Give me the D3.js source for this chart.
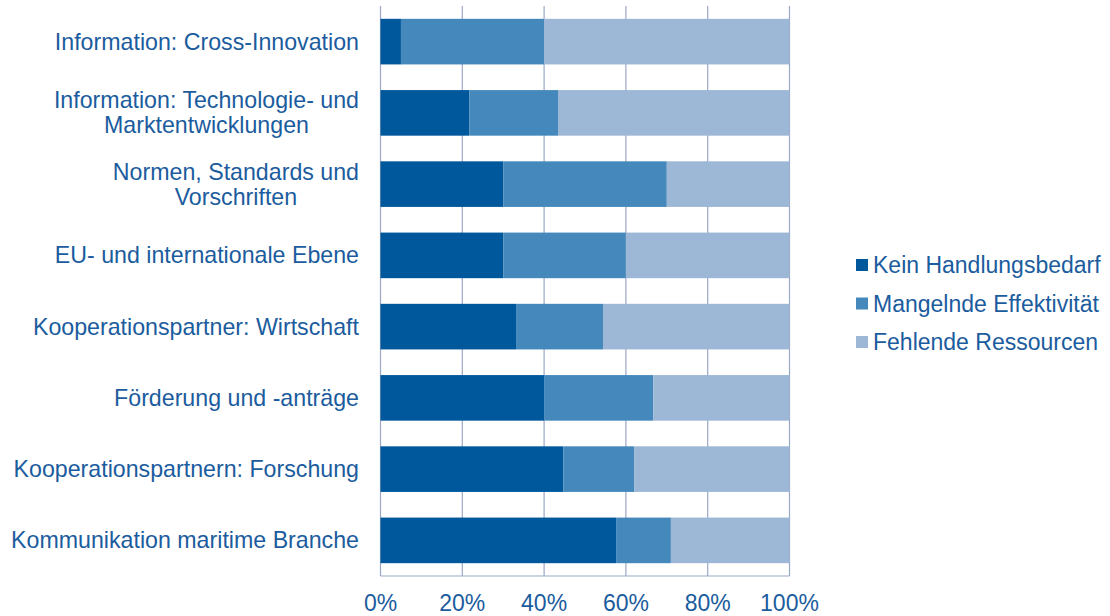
<!DOCTYPE html>
<html>
<head>
<meta charset="utf-8">
<script src="https://cdn.jsdelivr.net/npm/d3@7"></script>
<style>
  body { margin: 0; background: #fff; }
  text { font-family: "Liberation Sans", Arial, sans-serif; fill: #1B5C9E; }
</style>
</head>
<body>
<div id="chart"></div>
<script>
var categories = [
  ['Information: Cross-Innovation'],
  ['Information: Technologie- und', 'Marktentwicklungen'],
  ['Normen, Standards und', 'Vorschriften'],
  ['EU- und internationale Ebene'],
  ['Kooperationspartner: Wirtschaft'],
  ['Förderung und -anträge'],
  ['Kooperationspartnern: Forschung'],
  ['Kommunikation maritime Branche']
];
var seriesNames = ['Kein Handlungsbedarf', 'Mangelnde Effektivität', 'Fehlende Ressourcen'];
var keinHandlungsbedarf   = [5, 21.7, 30, 30, 33.3, 40, 44.7, 57.6];
var mangelndeEffektivitaet = [35, 21.7, 40, 30, 21.1, 26.7, 17.3, 13.4];
var fehlendeRessourcen    = [60, 56.6, 30, 40, 45.6, 33.3, 38, 29];
var tickValues = [0, 20, 40, 60, 80, 100];
var colors = ['#00589C', '#4589BC', '#9DB7D6'];

var W = 1110, H = 616;
var margin = { left: 380.5, right: 320.5, top: 6, bottom: 40 };

var svg = d3.select('#chart').append('svg')
  .attr('width', W).attr('height', H);

var x = d3.scaleLinear().domain([0, 100]).range([margin.left, W - margin.right]);
var y = d3.scaleBand().domain(d3.range(categories.length))
  .range([margin.top, H - margin.bottom]).paddingInner(0.36).paddingOuter(0.18);

var rows = categories.map(function(c, i) {
  return { i: i, vals: [keinHandlungsbedarf[i], mangelndeEffektivitaet[i], fehlendeRessourcen[i]] };
});
var stacked = d3.stack().keys([0, 1, 2]).value(function(d, k) { return d.vals[k]; })(rows);

// gridlines
svg.append('g').selectAll('line').data(tickValues).enter().append('line')
  .attr('x1', function(d) { return x(d); }).attr('x2', function(d) { return x(d); })
  .attr('y1', margin.top).attr('y2', H - margin.bottom)
  .attr('stroke', '#9AA7C7').attr('stroke-width', 1.2);
// bottom axis line
svg.append('line')
  .attr('x1', x(0)).attr('x2', x(100))
  .attr('y1', H - margin.bottom).attr('y2', H - margin.bottom)
  .attr('stroke', '#9AA7C7').attr('stroke-width', 1.2);

// bars
svg.append('g').selectAll('g').data(stacked).enter().append('g')
  .attr('fill', function(d, k) { return colors[k]; })
  .selectAll('rect').data(function(d) { return d; }).enter().append('rect')
  .attr('x', function(d) { return x(d[0]); })
  .attr('width', function(d) { return x(d[1]) - x(d[0]); })
  .attr('y', function(d) { return y(d.data.i); })
  .attr('height', y.bandwidth());

// x tick labels
svg.append('g').selectAll('text').data(tickValues).enter().append('text')
  .attr('x', function(d) { return x(d); }).attr('y', 611)
  .attr('text-anchor', 'middle').attr('font-size', 23)
  .text(function(d) { return d + '%'; });

// category labels: block right aligned, lines centered on each other
var labelRight = 359, lineH = 25;
categories.forEach(function(lines, i) {
  var g = svg.append('g');
  var cy = y(i) + y.bandwidth() / 2;
  var texts = lines.map(function(l, j) {
    return g.append('text').attr('font-size', 23.2)
      .attr('y', cy + (j - (lines.length - 1) / 2) * lineH + 8)
      .text(l);
  });
  var maxW = d3.max(texts, function(t) { return t.node().getComputedTextLength(); });
  texts.forEach(function(t) {
    t.attr('text-anchor', 'middle').attr('x', labelRight - maxW / 2);
  });
});

// legend
var legend = svg.append('g').selectAll('g').data(seriesNames).enter().append('g')
  .attr('transform', function(d, i) { return 'translate(856,' + (265 + i * 38.5) + ')'; });
legend.append('rect').attr('x', 0).attr('y', -6).attr('width', 12).attr('height', 12)
  .attr('fill', function(d, i) { return colors[i]; });
legend.append('text').attr('x', 17).attr('y', 8).attr('font-size', 23)
  .text(function(d) { return d; });
</script>
</body>
</html>
